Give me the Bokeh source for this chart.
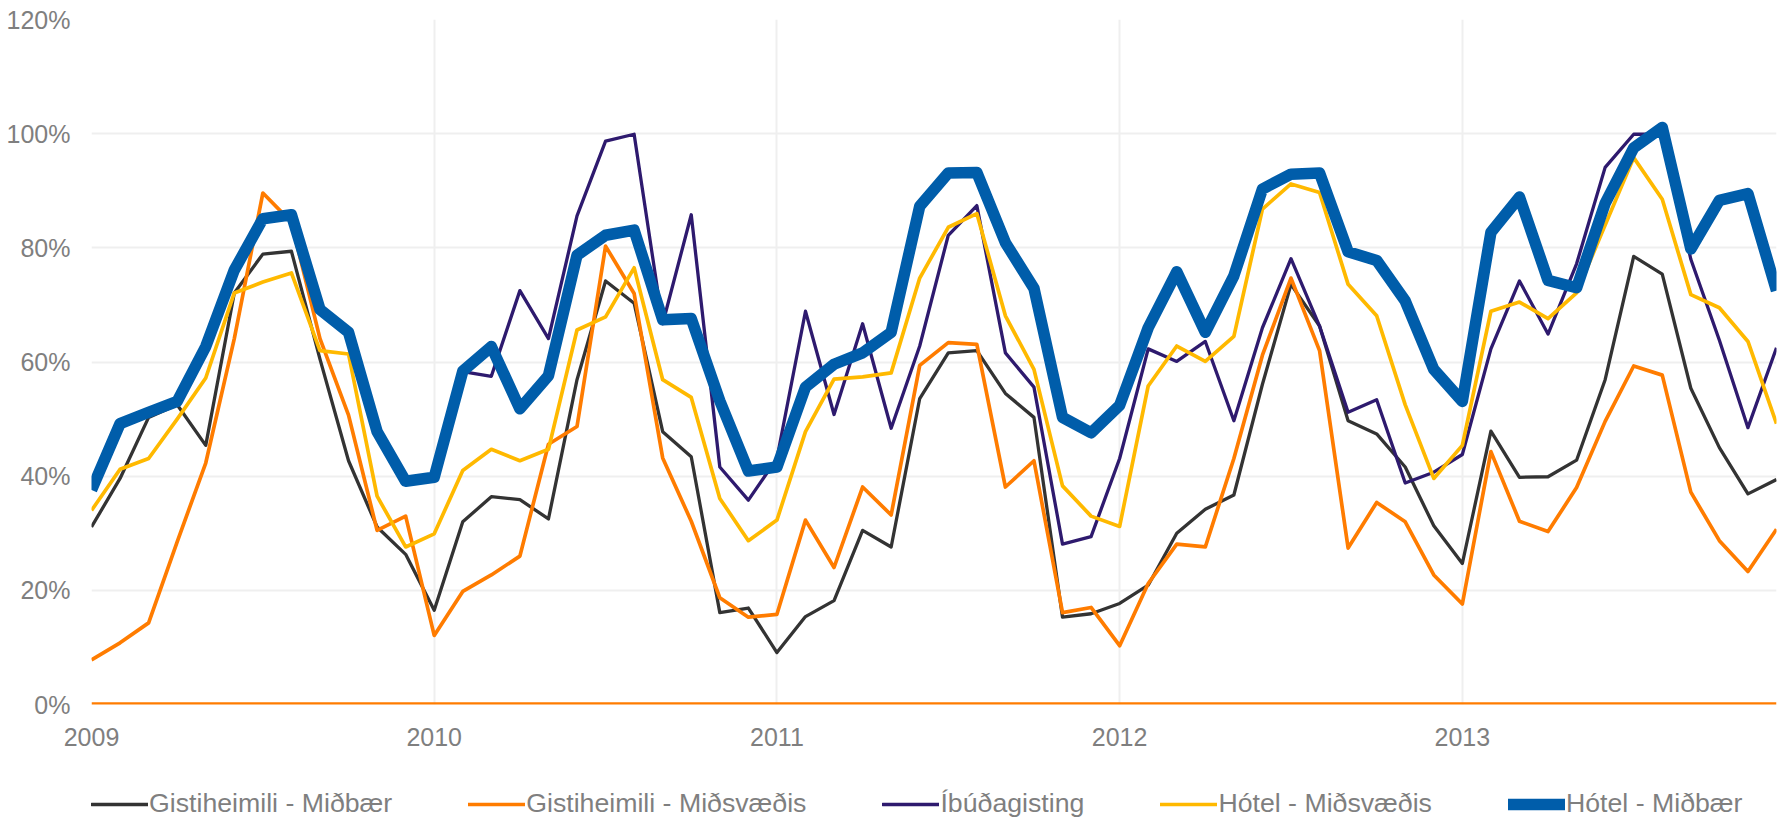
from bokeh.plotting import figure
from bokeh.layouts import column
from bokeh.models import Legend, LegendItem, FixedTicker, Span, Range1d, PrintfTickFormatter
from bokeh.embed import file_html
from bokeh.resources import INLINE

nan = float("nan")

months = list(range(60))
year_labels = ["2009", "2010", "2011", "2012", "2013"]
y_ticks = [0, 20, 40, 60, 80, 100, 120]

series_names = ["Gistiheimili - Miðbær", "Gistiheimili - Miðsvæðis", "Íbúðagisting",
                "Hótel - Miðsvæðis", "Hótel - Miðbær"]

gisti_midbaer = [31.1, 39.6, 50.3, 52.5, 45.4, 72.1, 78.9, 79.4, 60.5, 42.7, 31.1, 26.3,
                 16.5, 32.0, 36.4, 35.9, 32.5, 56.9, 74.2, 70.3, 47.8, 43.4, 16.1, 16.9,
                 9.1, 15.4, 18.2, 30.5, 27.6, 53.6, 61.6, 62.0, 54.5, 50.3, 15.3, 15.9,
                 17.7, 20.9, 30.0, 34.2, 36.7, 56.1, 73.6, 66.3, 49.7, 47.4, 41.6, 31.3,
                 24.7, 47.9, 39.8, 39.9, 42.8, 56.9, 78.5, 75.4, 55.4, 45.0, 36.9, 39.4]

gisti_midsvaedis = [7.8, 10.8, 14.3, 28.5, 42.3, 64.1, 89.6, 84.5, 64.1, 50.7, 30.5, 33.0,
                    12.1, 19.8, 22.7, 26.0, 45.6, 48.7, 80.3, 72.0, 43.2, 32.1, 18.7, 15.3,
                    15.8, 32.3, 24.0, 38.1, 33.2, 59.4, 63.4, 63.1, 38.1, 42.7, 16.1, 17.0,
                    10.3, 21.2, 28.1, 27.6, 43.1, 61.2, 74.7, 62.0, 27.4, 35.4, 32.0, 22.7,
                    17.6, 44.3, 32.1, 30.3, 38.0, 49.6, 59.3, 57.7, 37.2, 28.7, 23.3, 30.7]

ibudagisting = [nan, nan, nan, nan, nan, nan, nan, nan, nan, nan, nan, nan,
                nan, 58.3, 57.5, 72.5, 64.1, 85.6, 98.7, 99.9, 66.7, 85.8, 41.6, 35.8,
                43.1, 68.9, 50.8, 66.7, 48.4, 62.8, 82.2, 87.4, 61.6, 55.6, 28.1, 29.4,
                43.1, 62.3, 60.1, 63.6, 49.7, 66.0, 78.1, 66.3, 51.2, 53.4, 38.8, 40.7,
                43.8, 62.3, 74.2, 64.9, 77.2, 94.1, 99.9, 99.9, 78.0, 63.8, 48.5, 62.5]

hotel_midsvaedis = [34.0, 41.2, 43.1, 50.0, 57.2, 72.1, 74.0, 75.6, 62.0, 61.4, 36.5, 27.6,
                    29.9, 41.0, 44.7, 42.7, 44.7, 65.6, 67.9, 76.5, 56.9, 53.8, 36.1, 28.7,
                    32.3, 47.8, 57.0, 57.4, 58.1, 74.7, 83.6, 86.0, 68.1, 58.7, 38.3, 33.0,
                    31.2, 55.8, 62.8, 60.1, 64.5, 86.8, 91.2, 89.7, 73.6, 68.1, 52.5, 39.6,
                    45.4, 68.9, 70.5, 67.6, 72.1, 84.0, 95.8, 88.5, 71.8, 69.5, 63.6, 49.2]

hotel_midbaer = [37.6, 49.2, 51.2, 53.1, 62.7, 76.1, 85.1, 85.8, 69.2, 65.2, 47.8, 39.1,
                 39.8, 58.4, 62.7, 51.8, 57.6, 78.7, 82.2, 83.1, 67.4, 67.6, 53.2, 40.9,
                 41.6, 55.6, 59.6, 61.6, 65.2, 87.3, 93.1, 93.2, 80.9, 72.9, 50.3, 47.6,
                 52.4, 66.0, 75.8, 65.2, 75.1, 90.3, 92.9, 93.1, 79.3, 77.8, 70.7, 58.7,
                 53.1, 82.7, 88.9, 74.3, 73.0, 87.8, 97.5, 101.1, 79.8, 88.3, 89.5, 72.5]

colors = ["#333333", "#FF7C00", "#2E1A6E", "#FFB900", "#005DAA"]
widths = [3.3, 3.7, 3.3, 3.7, 11.5]

FONT = "Liberation Sans"
GRAY = "#7F7F7F"

all_series = [gisti_midbaer, gisti_midsvaedis, ibudagisting, hotel_midsvaedis, hotel_midbaer]

# ---- main chart ----
p = figure(width=1779, height=760, output_backend="svg", toolbar_location=None,
           x_range=Range1d(months[0], months[-1]), y_range=Range1d(y_ticks[0], y_ticks[-1]),
           min_border_left=91, min_border_right=3, min_border_top=19, min_border_bottom=56)
p.outline_line_color = None
p.background_fill_color = "white"

for ys, c, w in zip(all_series, colors, widths):
    p.line(months, ys, line_color=c, line_width=w, line_join="round")

zero = Span(location=y_ticks[0], dimension="width", line_color="#FF7C00", line_width=4.5)
p.add_layout(zero)

p.xaxis.ticker = FixedTicker(ticks=[months[i] for i in range(0, 60, 12)])
p.xaxis.major_label_overrides = {months[i * 12]: lab for i, lab in enumerate(year_labels)}
p.yaxis.ticker = FixedTicker(ticks=y_ticks)
p.yaxis.formatter = PrintfTickFormatter(format="%d%%")

for ax in (p.xaxis[0], p.yaxis[0]):
    ax.axis_line_color = None
    ax.major_tick_line_color = None
    ax.minor_tick_line_color = None
    ax.major_tick_out = 0
    ax.major_tick_in = 0
    ax.major_label_text_font = FONT
    ax.major_label_text_font_size = "25px"
    ax.major_label_text_color = GRAY
p.xaxis.major_label_standoff = 23
p.yaxis.major_label_standoff = 21

p.xgrid.ticker = FixedTicker(ticks=[months[i] for i in range(0, 60, 12)])
p.ygrid.ticker = FixedTicker(ticks=y_ticks)
p.grid.grid_line_color = "#EFEFEF"
p.grid.grid_line_width = 2

# ---- legend strip (same series, drawn outside its visible range) ----
q = figure(width=1779, height=59, output_backend="svg", toolbar_location=None,
           x_axis_type=None, y_axis_type=None,
           x_range=Range1d(months[0], months[-1]), y_range=Range1d(-20, -10),
           min_border_left=0, min_border_right=0, min_border_top=0, min_border_bottom=0)
q.outline_line_color = None
q.xgrid.visible = False
q.ygrid.visible = False

items = []
for name, ys, c, w in zip(series_names, all_series, colors, widths):
    r = q.line(months, ys, line_color=c, line_width=w, line_cap="round")
    items.append(LegendItem(label=name, renderers=[r]))

legend = Legend(items=items, orientation="horizontal", location=(0, 0),
                label_text_font=FONT, label_text_font_size="26.7px", label_text_color=GRAY,
                glyph_width=57, glyph_height=28, label_standoff=1, spacing=76,
                padding=0, margin=0, border_line_color=None, background_fill_alpha=0)
q.add_layout(legend, "center")

layout = column(p, q, spacing=0)
open("out.html", "w").write(file_html(layout, INLINE))
